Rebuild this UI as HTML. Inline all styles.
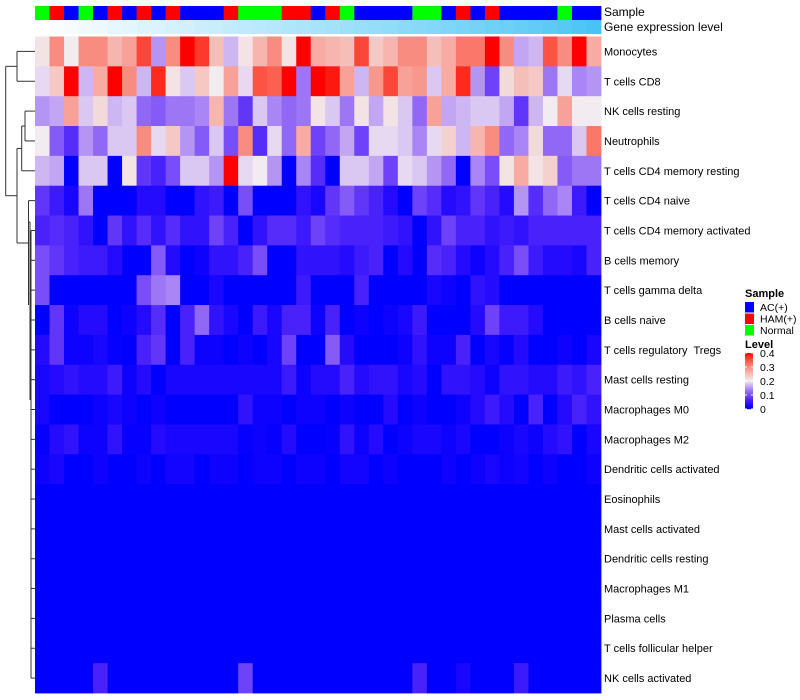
<!DOCTYPE html>
<html><head><meta charset="utf-8">
<style>
html,body{margin:0;padding:0;background:#fff;width:800px;height:700px;overflow:hidden;font-family:"Liberation Sans",sans-serif;}
svg text{font-family:"Liberation Sans",sans-serif;white-space:pre;}
</style></head>
<body>
<svg id="chart" width="800" height="700" xmlns="http://www.w3.org/2000/svg">
  <g id="dendro" stroke="#333" stroke-width="1" fill="none"></g>
  <g id="annot"></g>
  <g id="cells"></g>
  <g id="rowlabels" font-size="11" fill="#000"></g>
  <text x="604" y="16" font-size="12">Sample</text>
  <text x="604" y="31" font-size="12">Gene expression level</text>
  <g id="legend" font-size="11"></g>
</svg>
<script>
const rowNames = ["Monocytes","T cells CD8","NK cells resting","Neutrophils","T cells CD4 memory resting","T cells CD4 naive","T cells CD4 memory activated","B cells memory","T cells gamma delta","B cells naive","T cells regulatory  Tregs","Mast cells resting","Macrophages M0","Macrophages M2","Dendritic cells activated","Eosinophils","Mast cells activated","Dendritic cells resting","Macrophages M1","Plasma cells","T cells follicular helper","NK cells activated"];
const sampleGroups = ["G","R","B","G","B","R","B","R","B","R","B","B","B","R","G","G","G","R","R","B","R","G","B","B","B","B","G","G","B","R","B","R","B","B","B","B","G","B","B"];
const geneLevel = [0.00,0.03,0.05,0.08,0.10,0.13,0.15,0.18,0.20,0.23,0.25,0.28,0.30,0.33,0.35,0.38,0.40,0.43,0.45,0.48,0.50,0.53,0.55,0.58,0.60,0.63,0.65,0.68,0.70,0.73,0.75,0.78,0.80,0.83,0.86,0.89,0.92,0.96,1.00];
const row0 = [0.21,0.3,0.2,0.3,0.3,0.26,0.28,0.36,0.15,0.3,0.4,0.37,0.25,0.17,0.21,0.26,0.3,0.21,0.4,0.27,0.26,0.25,0.36,0.24,0.26,0.3,0.3,0.25,0.27,0.32,0.32,0.4,0.3,0.16,0.17,0.35,0.3,0.4,0.27];
const row1 = [0.19,0.24,0.4,0.17,0.27,0.4,0.3,0.17,0.38,0.21,0.18,0.24,0.2,0.28,0.19,0.35,0.34,0.4,0.13,0.4,0.39,0.28,0.17,0.29,0.36,0.28,0.29,0.18,0.27,0.38,0.15,0.09,0.22,0.25,0.24,0.13,0.19,0.14,0.15];
const row2 = [0.15,0.16,0.28,0.18,0.22,0.17,0.18,0.12,0.11,0.13,0.13,0.14,0.26,0.13,0.08,0.18,0.14,0.12,0.13,0.21,0.18,0.13,0.21,0.16,0.21,0.18,0.12,0.28,0.16,0.17,0.18,0.18,0.16,0.08,0.17,0.2,0.28,0.2,0.2];
const row3 = [0.2,0.11,0.07,0.15,0.12,0.18,0.18,0.3,0.19,0.24,0.15,0.11,0.18,0.1,0.3,0.07,0.19,0.12,0.27,0.09,0.12,0.16,0.09,0.19,0.19,0.18,0.14,0.19,0.23,0.17,0.26,0.3,0.12,0.14,0.22,0.12,0.12,0.18,0.32];
const row4 = [0.17,0.16,0,0.18,0.18,0,0.21,0.08,0.06,0.1,0.18,0.18,0.15,0.4,0.19,0.2,0.15,0,0.14,0.07,0,0.18,0.18,0.16,0.09,0.19,0.18,0.15,0.12,0,0.14,0.1,0.21,0.27,0.21,0.23,0.11,0.13,0.13];
const row5 = [0.08,0.05,0.02,0.13,0,0,0,0.03,0.03,0,0,0.04,0.05,0,0.1,0,0,0,0.04,0.02,0.08,0.11,0.08,0.06,0.03,0,0.09,0.07,0.03,0.04,0.08,0.06,0.03,0.15,0.07,0.12,0.14,0.05,0];
const row6 = [0.06,0.07,0.06,0.04,0,0.08,0.04,0.07,0.04,0.07,0.04,0.04,0.09,0.06,0,0.04,0.07,0.07,0.05,0.09,0.07,0.06,0.06,0.06,0.05,0.04,0,0.04,0.09,0.06,0.06,0.04,0.05,0.04,0.06,0.06,0.06,0.06,0.06];
const row7 = [0.1,0.08,0.06,0.05,0.05,0.03,0,0,0.11,0.03,0,0.01,0.04,0.04,0.06,0.1,0,0,0.04,0.04,0.04,0.03,0.05,0.06,0,0.03,0,0.07,0.06,0.03,0.01,0.03,0.06,0.1,0.05,0.03,0.03,0.02,0.06];
const row8 = [0.1,0,0,0,0,0,0,0.1,0.13,0.14,0,0,0.02,0,0,0,0,0,0.05,0,0,0,0.06,0,0,0,0,0.02,0.01,0,0.04,0.03,0,0,0,0,0,0,0];
const row9 = [0,0.08,0.01,0.03,0.03,0,0.01,0.03,0.07,0,0.06,0.12,0.04,0.02,0,0.05,0.02,0.06,0.06,0.01,0.06,0,0.01,0,0.01,0.02,0.05,0,0,0,0.03,0.09,0.05,0.05,0.03,0,0,0,0];
const row10 = [0.03,0.08,0.01,0.01,0.02,0.005,0,0.06,0.08,0,0.06,0.01,0.01,0,0.01,0,0.02,0.09,0,0,0.11,0.03,0,0,0,0.01,0.04,0.01,0.01,0.06,0,0.02,0.005,0.03,0,0,0.01,0,0.02];
const row11 = [0.02,0.03,0.04,0.03,0.03,0.05,0.01,0.03,0,0.02,0.02,0.02,0.02,0.02,0.02,0.02,0.02,0.05,0.01,0.03,0.03,0.06,0.03,0.04,0.04,0.02,0.03,0,0.04,0.04,0.03,0.01,0.04,0.04,0.03,0.03,0.05,0.04,0.06];
const row12 = [0.02,0,0,0,0.01,0.02,0.01,0,0.01,0,0,0,0,0,0.04,0.01,0.01,0,0.01,0.01,0,0.01,0,0,0.03,0,0.01,0,0,0.01,0.03,0.05,0.03,0,0.06,0,0.03,0.06,0.04];
const row13 = [0.005,0.03,0.04,0.01,0.01,0.04,0.005,0.005,0.03,0.02,0.02,0.02,0.02,0.02,0.005,0.01,0.005,0.03,0,0,0.005,0.04,0.01,0.03,0,0.01,0.02,0.02,0.01,0.02,0,0,0.01,0.02,0.01,0.03,0.04,0,0.02];
const row14 = [0.01,0.02,0,0,0.01,0,0,0.01,0,0.015,0.015,0,0.01,0.01,0,0.01,0.01,0,0.01,0.01,0,0.015,0.015,0,0.01,0,0,0,0.01,0,0.01,0.02,0.01,0.015,0,0.01,0,0,0.01];
const row15 = [0,0,0,0,0,0,0,0,0,0,0,0,0,0,0,0,0,0,0,0,0,0,0,0,0,0,0,0,0,0,0,0,0,0,0,0,0,0,0];
const row16 = [0,0,0,0,0,0,0,0,0,0,0,0,0,0,0,0,0,0,0,0,0,0,0,0,0,0,0,0,0,0,0,0,0,0,0,0,0,0,0];
const row17 = [0,0,0,0,0,0,0,0,0,0,0,0,0,0,0,0,0,0,0,0,0,0,0,0,0,0,0,0,0,0,0,0,0,0,0,0,0,0,0];
const row18 = [0,0,0,0,0,0,0,0,0,0,0,0,0,0,0,0,0,0,0,0,0,0,0,0,0,0,0,0,0,0,0,0,0,0,0,0,0,0,0];
const row19 = [0,0,0,0,0,0,0,0,0,0,0,0,0,0,0,0,0,0,0,0,0,0,0,0,0,0,0,0,0,0,0,0,0,0,0,0,0,0,0];
const row20 = [0,0,0,0,0,0,0,0,0,0,0,0,0,0,0,0,0,0,0,0,0,0,0,0,0,0,0,0,0,0,0,0,0,0,0,0,0,0,0];
const row21 = [0,0,0,0,0.06,0,0,0,0,0,0,0,0,0,0.09,0,0,0,0,0,0,0,0,0,0,0,0.06,0,0,0.02,0,0,0,0.05,0,0,0,0,0];
const matrix = [row0,row1,row2,row3,row4,row5,row6,row7,row8,row9,row10,row11,row12,row13,row14,row15,row16,row17,row18,row19,row20,row21];
const legendTicks = [0,0.1,0.2,0.3,0.4];
const groupLabels = ["AC(+)","HAM(+)","Normal"];
const groupKeys = ["B","R","G"];

const NS = "http://www.w3.org/2000/svg";
const X0 = 35, X1 = 601, Y0 = 36.5, Y1 = 693;
const nCol = sampleGroups.length, nRow = matrix.length;
const cw = (X1 - X0) / nCol, rh = (Y1 - Y0) / nRow;
function xPos(c){ return X0 + c * cw; }
function yPos(r){ return Y0 + r * rh; }
function groupColor(g){ return g === "B" ? "#0000ff" : g === "R" ? "#ff0000" : "#00ff00"; }
function levelColor(v){
  v = Math.max(0, Math.min(0.4, v));
  let r, g, b;
  if (v <= 0.2) { const s = v / 0.2; r = 242 * s; g = 236 * Math.pow(s, 1.6); b = 255 - 15 * s; }
  else { const u = (v - 0.2) / 0.2; r = 242 + 13 * u; g = 236 * Math.pow(1 - u, 0.75); b = 240 * Math.pow(1 - u, 0.9); }
  return "rgb(" + Math.round(r) + "," + Math.round(g) + "," + Math.round(b) + ")";
}
function geneColor(t){
  const r = 255 + (72 - 255) * t, g = 255 + (196 - 255) * t, b = 255 + (244 - 255) * t;
  return "rgb(" + Math.round(r) + "," + Math.round(g) + "," + Math.round(b) + ")";
}
function mk(tag, attrs, parent){ const el = document.createElementNS(NS, tag); for (const k in attrs) el.setAttribute(k, attrs[k]); parent.appendChild(el); return el; }

const annot = document.getElementById("annot");
sampleGroups.forEach((g, c) => {
  const el = mk("rect", {x: xPos(c), y: 6, width: cw + 0.4, height: 14, fill: groupColor(g)}, annot);
  
  
});
geneLevel.forEach((t, c) => {
  const el = mk("rect", {x: xPos(c), y: 20, width: cw + 0.4, height: 14, fill: geneColor(t)}, annot);
  
  
});

const cells = document.getElementById("cells");
matrix.forEach((row, r) => {
  row.forEach((v, c) => {
    const el = mk("rect", {x: xPos(c), y: yPos(r), width: cw + 0.4, height: rh + 0.4, fill: levelColor(v)}, cells);
    
    
  });
});

const rl = document.getElementById("rowlabels");
rowNames.forEach((n, r) => {
  const t = mk("text", {x: 604, y: yPos(r) + rh / 2 + 4}, rl);
  t.textContent = n;
  
  
});

const dg = document.getElementById("dendro");
function yc(r){ return yPos(r) + rh / 2; }
const segs = [];
segs.push([17, yc(0), 35, yc(0)], [17, yc(1), 35, yc(1)], [17, yc(0), 17, yc(1)]);
segs.push([25, yc(2), 35, yc(2)], [25, yc(3), 35, yc(3)], [25, yc(2), 25, yc(3)]);
const m23 = (yc(2) + yc(3)) / 2;
segs.push([21.7, m23, 25, m23], [21.7, yc(4), 35, yc(4)], [21.7, m23, 21.7, yc(4)]);
const m234 = (m23 + yc(4)) / 2;
segs.push([17, m234, 21.7, m234], [17, m234, 17, 243], [17, 243, 28.5, 243]);
segs.push([28.5, yc(5), 35, yc(5)], [28.5, yc(5), 28.5, 305]);
segs.push([30, 222, 30, 400], [28.5, 222, 30, 222]);
for (let r = 6; r < nRow; r++) { segs.push([31, yc(r), 35, yc(r)]); }
segs.push([31, yc(6), 31, yc(21)]);
const mTop = (yc(0) + yc(1)) / 2;
const mMid = (m234 + 243) / 2;
segs.push([5.7, mTop, 17, mTop], [5.7, mTop, 5.7, mMid], [5.7, mMid, 17, mMid]);
segs.forEach(s => {
  const l = mk("line", {x1: s[0], y1: s[1], x2: s[2], y2: s[3]}, dg);
  
  
});

const lg = document.getElementById("legend");
const st = mk("text", {x: 745, y: 297, "font-weight": "bold"}, lg); st.textContent = "Sample";


groupKeys.forEach((k, i) => {
  const r = mk("rect", {x: 745, y: 302 + i * 11.5, width: 9, height: 10.5, fill: groupColor(k)}, lg);
  
  
  const t = mk("text", {x: 760, y: 311 + i * 11.5, "font-size": "10.5"}, lg); t.textContent = groupLabels[i];
  
  
});
const lt = mk("text", {x: 745, y: 348, "font-weight": "bold"}, lg); lt.textContent = "Level";


const LB0 = 353, LB1 = 409;
for (let i = 0; i < 56; i++) {
  const v = 0.4 * (1 - i / 55);
  const r = mk("rect", {x: 745, y: LB0 + i, width: 8, height: 1.2, fill: levelColor(v)}, lg);
  
  
}
legendTicks.forEach(v => {
  const y = LB1 - (v / 0.4) * (LB1 - LB0);
  mk("line", {x1: 745, y1: y, x2: 747, y2: y, stroke: "#fff", "stroke-width": 1}, lg);
  mk("line", {x1: 751, y1: y, x2: 753, y2: y, stroke: "#fff", "stroke-width": 1}, lg);
  const t = mk("text", {x: 760, y: y + 4, "font-size": "10.5"}, lg); t.textContent = String(v);
  
  
});
</script>
</body></html>
